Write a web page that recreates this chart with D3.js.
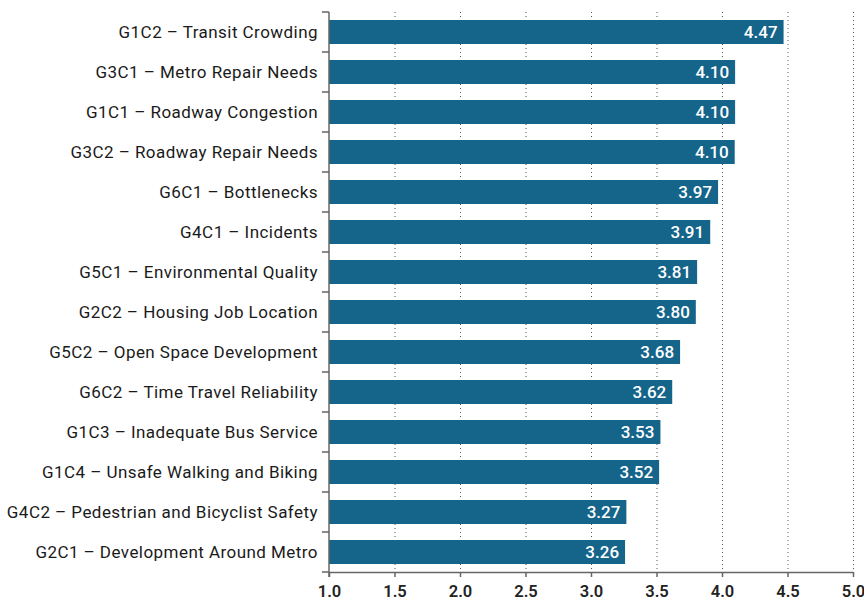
<!DOCTYPE html>
<html>
<head>
<meta charset="utf-8">
<script src="https://cdn.jsdelivr.net/npm/d3@7"></script>
<style>
  body { margin: 0; background: #fff; }
  svg text { font-family: Roboto, "DejaVu Sans", sans-serif; }
</style>
</head>
<body>
<div id="chart"></div>
<script>
// categories, top to bottom
var categories = [
  "G1C2 – Transit Crowding",
  "G3C1 – Metro Repair Needs",
  "G1C1 – Roadway Congestion",
  "G3C2 – Roadway Repair Needs",
  "G6C1 – Bottlenecks",
  "G4C1 – Incidents",
  "G5C1 – Environmental Quality",
  "G2C2 – Housing Job Location",
  "G5C2 – Open Space Development",
  "G6C2 – Time Travel Reliability",
  "G1C3 – Inadequate Bus Service",
  "G1C4 – Unsafe Walking and Biking",
  "G4C2 – Pedestrian and Bicyclist Safety",
  "G2C1 – Development Around Metro"
];
var scores = [4.47, 4.10, 4.10, 4.097, 3.97, 3.91, 3.81, 3.80, 3.68, 3.62, 3.53, 3.52, 3.27, 3.26];
var xTicks = [1.0, 1.5, 2.0, 2.5, 3.0, 3.5, 4.0, 4.5, 5.0];

var width = 864, height = 603;
var margin = {top: 12, right: 11, bottom: 31, left: 329};

var svg = d3.select("#chart").append("svg")
  .attr("width", width)
  .attr("height", height);

var x = d3.scaleLinear()
  .domain([1, 5])
  .range([margin.left, width - margin.right]);

var y = d3.scaleBand()
  .domain(categories)
  .range([margin.top, height - margin.bottom])
  .paddingInner(0.4)
  .paddingOuter(0.2);

// dotted grid
svg.append("g")
  .selectAll("line")
  .data(xTicks.slice(1))
  .enter().append("line")
  .attr("x1", function(d) { return x(d) + 0.5; })
  .attr("x2", function(d) { return x(d) + 0.5; })
  .attr("y1", margin.top)
  .attr("y2", height - margin.bottom)
  .attr("stroke", "#555")
  .attr("stroke-width", 1)
  .attr("stroke-dasharray", "1,3");

// bars
svg.append("g")
  .selectAll("rect")
  .data(scores)
  .enter().append("rect")
  .attr("x", x(1))
  .attr("y", function(d, i) { return y(categories[i]); })
  .attr("width", function(d) { return x(d) - x(1); })
  .attr("height", y.bandwidth())
  .attr("fill", "#15648a");

// value labels
svg.append("g")
  .selectAll("text")
  .data(scores)
  .enter().append("text")
  .attr("x", function(d) { return x(d) - 6; })
  .attr("y", function(d, i) { return y(categories[i]) + y.bandwidth() / 2; })
  .attr("dy", "0.36em")
  .attr("text-anchor", "end")
  .attr("fill", "#fff")
  .style("font-size", "17px")
  .style("font-weight", "500")
  .text(function(d) { return d3.format(".2f")(d); });

// x axis
var xAxis = svg.append("g")
  .attr("transform", "translate(0," + (height - margin.bottom) + ")")
  .call(d3.axisBottom(x).tickValues(xTicks).tickFormat(d3.format(".1f")).tickSize(5).tickSizeOuter(0));
xAxis.select(".domain").attr("stroke", "#666").attr("stroke-width", 1.5);
xAxis.selectAll(".tick line").attr("stroke", "#666").attr("stroke-width", 1.5);
xAxis.selectAll("text")
  .attr("fill", "#222")
  .attr("y", 13)
  .style("font-size", "16.5px")
  .style("font-weight", "600");

// y axis: labels plus ticks at band boundaries
var yAxis = svg.append("g");
yAxis.append("line")
  .attr("x1", x(1)).attr("x2", x(1))
  .attr("y1", margin.top).attr("y2", height - margin.bottom + 5)
  .attr("stroke", "#666").attr("stroke-width", 1.5);
var step = y.step();
var bounds = d3.range(categories.length + 1).map(function(i) { return margin.top + i * step; });
yAxis.selectAll("line.tk")
  .data(bounds)
  .enter().append("line")
  .attr("class", "tk")
  .attr("x1", x(1) - 7).attr("x2", x(1))
  .attr("y1", function(d) { return d; })
  .attr("y2", function(d) { return d; })
  .attr("stroke", "#666").attr("stroke-width", 1.5);
yAxis.selectAll("text")
  .data(categories)
  .enter().append("text")
  .attr("x", x(1) - 11)
  .attr("y", function(d) { return y(d) + y.bandwidth() / 2; })
  .attr("dy", "0.36em")
  .attr("text-anchor", "end")
  .attr("fill", "#1a1a1a")
  .style("font-size", "17px")
  .style("font-weight", "400")
  .style("letter-spacing", "0.45px")
  .text(function(d) { return d; });
</script>
</body>
</html>
